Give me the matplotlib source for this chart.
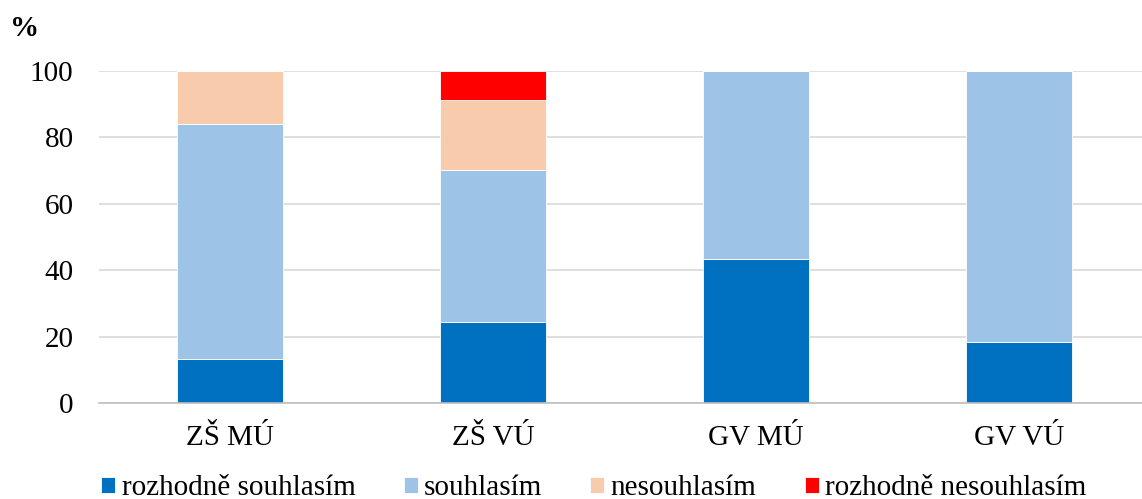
import matplotlib.pyplot as plt
import numpy as np

categories = ["ZŠ MÚ", "ZŠ VÚ", "GV MÚ", "GV VÚ"]
series_names = ["rozhodně souhlasím", "souhlasím", "nesouhlasím", "rozhodně nesouhlasím"]
rozhodne_souhlasim = [13.2, 24.5, 43.4, 18.3]
souhlasim = [70.9, 45.7, 56.6, 81.7]
nesouhlasim = [15.9, 21.0, 0, 0]
rozhodne_nesouhlasim = [0, 8.8, 0, 0]
colors = ["#0070C0", "#9DC3E6", "#F8CBAD", "#FF0000"]

plt.rcParams['font.family'] = ['Liberation Serif', 'DejaVu Serif']

fig = plt.figure(figsize=(11.42, 4.99), dpi=100)
ax = fig.add_axes([98.5 / 1142, 96 / 499, 1052 / 1142, 332 / 499])

x = np.arange(len(categories))
bottom = np.zeros(len(categories))
for name, vals, c in zip(series_names,
                         [rozhodne_souhlasim, souhlasim, nesouhlasim, rozhodne_nesouhlasim],
                         colors):
    ax.bar(x, vals, 0.4, bottom=bottom, color=c, label=name,
           edgecolor='white', linewidth=0.6, zorder=3)
    bottom += np.array(vals)

ax.set_xlim(-0.5, 3.5)
ax.set_ylim(0, 100)
ax.set_yticks(range(0, 101, 20))
ax.yaxis.grid(True, color='#d9d9d9', linewidth=1.2, zorder=0)
ax.set_axisbelow(True)
for s in ['top', 'right', 'left']:
    ax.spines[s].set_visible(False)
ax.spines['bottom'].set_color('#bfbfbf')
ax.spines['bottom'].set_linewidth(1.2)
ax.spines['bottom'].set_zorder(4)
ax.tick_params(axis='both', length=0, labelsize=21)
ax.tick_params(axis='x', pad=16)
ax.tick_params(axis='y', pad=18)
ax.set_xticks(x)
ax.set_xticklabels(categories)

fig.text(10 / 1142, 1 - 28 / 499, "%", fontsize=21, fontweight='bold', va='center', ha='left')

fig.legend(loc='center', bbox_to_anchor=(0.52, 0.022), ncol=4, frameon=False,
           fontsize=21, handlelength=0.48, handleheight=0.48, handletextpad=0.22,
           columnspacing=1.65, borderpad=0)

fig.savefig("out.png", dpi=100)
